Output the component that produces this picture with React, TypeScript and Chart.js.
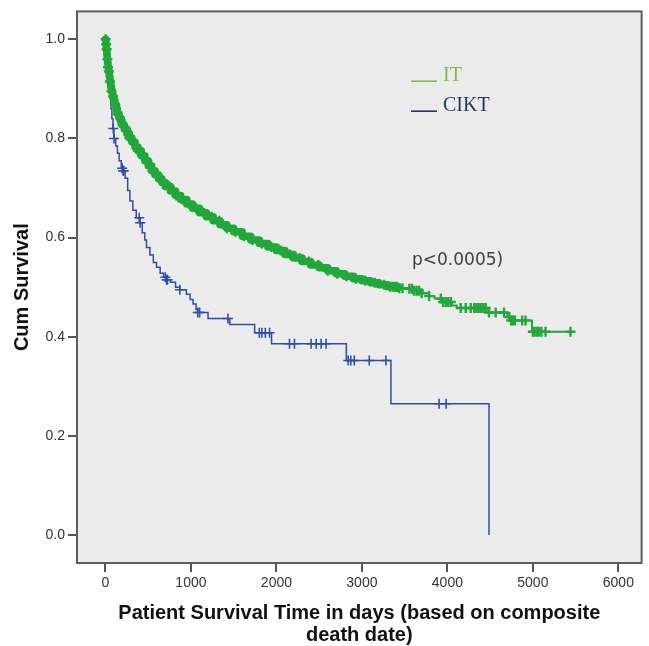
import { useEffect, useRef } from 'react';
import { Chart, registerables } from 'chart.js';

Chart.register(...registerables);

// IT group: Kaplan-Meier step points (days, cumulative survival)
const itTimes = [0, 5, 10, 15, 20, 25, 30, 36, 44, 52, 60, 70, 82, 95, 110, 125, 140, 158, 175, 195, 220, 250, 280, 310, 345, 380, 420, 460, 500, 540, 580, 620, 660, 700, 760, 820, 880, 950, 1020, 1100, 1180, 1260, 1340, 1420, 1500, 1600, 1700, 1800, 1900, 2000, 2100, 2200, 2300, 2400, 2500, 2600, 2700, 2800, 2900, 3000, 3100, 3200, 3300, 3420, 3500, 3600, 3700, 3780, 3850, 3950, 4050, 4110, 4460, 4700, 4740, 4990, 5440];
const itSurv = [1.0, 0.99, 0.98, 0.97, 0.96, 0.952, 0.944, 0.935, 0.925, 0.915, 0.905, 0.895, 0.885, 0.877, 0.868, 0.859, 0.85, 0.842, 0.835, 0.827, 0.819, 0.81, 0.801, 0.793, 0.783, 0.775, 0.765, 0.755, 0.745, 0.735, 0.727, 0.719, 0.711, 0.703, 0.694, 0.685, 0.677, 0.668, 0.659, 0.65, 0.642, 0.634, 0.626, 0.619, 0.612, 0.603, 0.595, 0.588, 0.581, 0.574, 0.566, 0.559, 0.552, 0.545, 0.539, 0.533, 0.527, 0.522, 0.517, 0.513, 0.509, 0.505, 0.501, 0.498, 0.497, 0.493, 0.488, 0.482, 0.477, 0.47, 0.463, 0.458, 0.449, 0.44, 0.433, 0.41, 0.41];
// IT censored observations (days)
const itCensorTimes = [3, 8, 14, 22, 30, 40, 52, 70, 90, 115, 140, 170, 200, 240, 280, 330, 380, 430, 490, 550, 610, 680, 750, 830, 900, 980, 1060, 1150, 1240, 1330, 1420, 1520, 1620, 1720, 1830, 1940, 2050, 2160, 2270, 2380, 2490, 2600, 2710, 2820, 2930, 3040, 3150, 3260, 3330, 3360, 3385, 3410, 3437, 3475, 3555, 3585, 3610, 3640, 3670, 3700, 3786, 3923, 3950, 3981, 4010, 4040, 4156, 4215, 4273, 4315, 4340, 4365, 4390, 4420, 4448, 4487, 4565, 4662, 4725, 4745, 4765, 4790, 4875, 4914, 5000, 5020, 5045, 5070, 5100, 5148, 5440];

// CIKT group: Kaplan-Meier step points
const ciktTimes = [0, 8, 15, 25, 35, 45, 55, 65, 75, 88, 99, 120, 140, 160, 185, 204, 230, 260, 286, 320, 360, 403, 430, 460, 480, 520, 560, 597, 640, 680, 714, 760, 820, 869, 947, 990, 1025, 1060, 1079, 1200, 1455, 1745, 1943, 2818, 3340, 4487];
const ciktSurv = [1.0, 0.98, 0.96, 0.94, 0.92, 0.9, 0.88, 0.86, 0.84, 0.82, 0.8, 0.785, 0.77, 0.755, 0.74, 0.735, 0.72, 0.695, 0.674, 0.655, 0.64, 0.63, 0.61, 0.595, 0.58, 0.565, 0.55, 0.54, 0.528, 0.52, 0.515, 0.51, 0.5, 0.495, 0.486, 0.475, 0.466, 0.455, 0.449, 0.437, 0.425, 0.408, 0.386, 0.352, 0.265, 0.0];
// CIKT censored observations (days)
const ciktCensorTimes = [91, 100, 195, 206, 215, 395, 405, 700, 716, 725, 870, 1080, 1102, 1433, 1800, 1830, 1870, 1920, 2153, 2211, 2406, 2465, 2523, 2581, 2840, 2870, 2911, 3086, 3281, 3903, 3985];

const xTickValues = [0, 1000, 2000, 3000, 4000, 5000, 6000];
const yTickValues = [0, 0.2, 0.4, 0.6, 0.8, 1.0];
const legendLabels = ['IT', 'CIKT'];
const pValueText = 'p<0.0005)';
const xTitle = ['Patient Survival Time in days (based on composite', 'death date)'];
const yTitle = 'Cum Survival';

const IT_COLOR = '#22a83a';
const CIKT_COLOR = '#2f4fa6';
const IT_LEGEND = '#86b84e';
const CIKT_LEGEND = '#1f3a6a';

function survAt(times: number[], surv: number[], t: number) {
  let v = surv[0];
  for (let i = 0; i < times.length; i++) {
    if (times[i] <= t) v = surv[i];
  }
  return v;
}

const decorPlugin = {
  id: 'decor',
  beforeDatasetsDraw(chart: any) {
    const { ctx, chartArea: a } = chart;
    ctx.save();
    ctx.fillStyle = '#ebebeb';
    ctx.fillRect(a.left, a.top, a.right - a.left, a.bottom - a.top);
    ctx.restore();
  },
  afterDatasetsDraw(chart: any) {
    const { ctx, chartArea: a } = chart;
    ctx.save();
    ctx.strokeStyle = '#5c5c5c';
    ctx.lineWidth = 2;
    ctx.strokeRect(a.left, a.top, a.right - a.left, a.bottom - a.top);

    // legend
    const lx = a.left + 334;
    const colors = [IT_LEGEND, CIKT_LEGEND];
    ctx.font = '20px "Liberation Serif", serif';
    ctx.textBaseline = 'alphabetic';
    ctx.textAlign = 'left';
    legendLabels.forEach((lab, i) => {
      const y = a.top + 70 + i * 30;
      ctx.fillStyle = colors[i];
      ctx.fillRect(lx, y - 1, 26, 1.6);
      ctx.fillText(lab, lx + 32, y);
    });

    // p-value annotation
    ctx.fillStyle = '#404040';
    ctx.font = '17px "DejaVu Sans", sans-serif';
    ctx.fillText(pValueText, a.left + 335, a.top + 254);
    ctx.restore();
  },
};

export default function App() {
  const ref = useRef<HTMLCanvasElement | null>(null);

  useEffect(() => {
    if (!ref.current) return;
    const itLine = itTimes.map((t, i) => ({ x: t, y: itSurv[i] }));
    const ciktLine = ciktTimes.map((t, i) => ({ x: t, y: ciktSurv[i] }));
    const itCens = itCensorTimes.map((t) => ({ x: t, y: survAt(itTimes, itSurv, t) }));
    const ciktCens = ciktCensorTimes.map((t) => ({ x: t, y: survAt(ciktTimes, ciktSurv, t) }));

    const chart = new Chart(ref.current, {
      type: 'scatter',
      data: {
        datasets: [
          {
            label: 'IT censored',
            data: itCens,
            showLine: false,
            pointStyle: 'cross',
            pointRadius: 5,
            borderColor: IT_COLOR,
            backgroundColor: IT_COLOR,
            pointBorderWidth: 2.4,
          },
          {
            label: 'IT',
            data: itLine,
            showLine: true,
            stepped: 'before',
            borderColor: IT_COLOR,
            backgroundColor: IT_COLOR,
            pointRadius: 0,
            borderWidth: 2,
            borderJoinStyle: 'round',
            borderCapStyle: 'round',
            segment: {
              borderWidth: (c: any) => (c.p0.parsed.x < 3350 ? 7.5 : 2),
            },
          },
          {
            label: 'CIKT censored',
            data: ciktCens,
            showLine: false,
            pointStyle: 'cross',
            pointRadius: 5,
            borderColor: CIKT_COLOR,
            backgroundColor: CIKT_COLOR,
            pointBorderWidth: 1.6,
          },
          {
            label: 'CIKT',
            data: ciktLine,
            showLine: true,
            stepped: 'before',
            borderColor: CIKT_COLOR,
            backgroundColor: CIKT_COLOR,
            pointRadius: 0,
            borderWidth: 1.5,
          },
        ],
      },
      options: {
        animation: false,
        responsive: false,
        layout: { padding: { left: 0, top: 10, right: 6, bottom: 0 } },
        plugins: { legend: { display: false }, tooltip: { enabled: false } },
        scales: {
          x: {
            type: 'linear',
            min: -333,
            max: 6272,
            afterBuildTicks: (scale: any) => {
              scale.ticks = xTickValues.map((v) => ({ value: v }));
            },
            afterFit: (scale: any) => {
              scale.height = 83;
            },
            grid: { drawOnChartArea: false, drawTicks: true, tickLength: 9, color: '#555', lineWidth: 2 },
            border: { display: false },
            ticks: {
              padding: 3,
              color: '#333',
              font: { family: '"Liberation Sans", Arial, sans-serif', size: 14 },
              callback: (v: any) => String(v),
            },
            title: {
              display: true,
              text: xTitle,
              color: '#111',
              font: { family: '"Liberation Sans", Arial, sans-serif', size: 20, weight: 'bold', lineHeight: 1.1 },
              padding: { top: 0, bottom: 0 },
            },
          },
          y: {
            type: 'linear',
            min: -0.0563,
            max: 1.0563,
            afterBuildTicks: (scale: any) => {
              scale.ticks = yTickValues.map((v) => ({ value: v }));
            },
            afterFit: (scale: any) => {
              scale.width = 77;
            },
            grid: { drawOnChartArea: false, drawTicks: true, tickLength: 9, color: '#555', lineWidth: 2 },
            border: { display: false },
            ticks: {
              padding: 3,
              color: '#333',
              font: { family: '"Liberation Sans", Arial, sans-serif', size: 14 },
              callback: (v: any) => Number(v).toFixed(1),
            },
            title: {
              display: true,
              text: yTitle,
              color: '#111',
              font: { family: '"Liberation Sans", Arial, sans-serif', size: 20, weight: 'bold', lineHeight: 1.2 },
              padding: { top: 10, bottom: 0 },
            },
          },
        },
      },
      plugins: [decorPlugin],
    });
    return () => chart.destroy();
  }, []);

  return (
    <div style={{ position: 'fixed', left: 0, top: 0, width: 649, height: 646, background: '#fff' }}>
      <canvas ref={ref} width={649} height={646} style={{ display: 'block' }} />
    </div>
  );
}
